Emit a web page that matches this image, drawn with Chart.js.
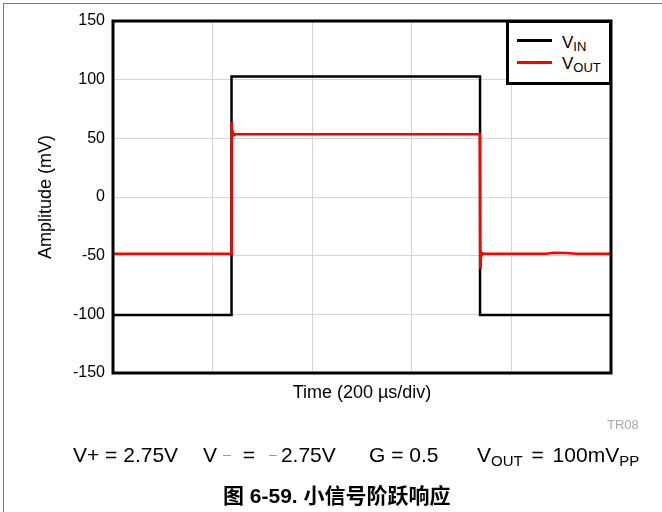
<!DOCTYPE html>
<html>
<head>
<meta charset="utf-8">
<script src="https://cdn.jsdelivr.net/npm/chart.js@4.4.1/dist/chart.umd.min.js"></script>
<style>
  html, body { margin: 0; padding: 0; background: #fff; }
  body { width: 662px; height: 512px; position: relative; overflow: hidden;
         font-family: "Liberation Sans", Arial, sans-serif; color: #000; }
  #page { position: absolute; left: 3px; top: 3px; right: -5px; bottom: -5px;
          border-left: 1px solid #777; border-top: 1px solid #777; }
  #chart { position: absolute; left: 0; top: 0; }
  .legend { position: absolute; left: 506px; top: 20px; width: 106px; height: 65px;
            box-sizing: border-box; border: 3px solid #000; background: #fff; }
  .legend .swatch { position: absolute; left: 8px; width: 35px; height: 2.5px; }
  .legend .name { position: absolute; left: 53px; font-size: 17px; line-height: 17px; white-space: pre; }
  .legend .name span { font-size: 13px; position: relative; top: 3px; }
  .tr { position: absolute; left: 607px; top: 418px; font-size: 13px; line-height: 13px; color: #aaa; }
  .cond { position: absolute; top: 444px; font-size: 21px; line-height: 21px; white-space: pre; }
  .cond .sub { font-size: 15px; position: relative; top: 4px; }
  .cond .dash { font-size: 14px; color: #999; position: relative; top: -3px; }
  .cap { position: absolute; left: 223px; top: 485px; font-size: 21px; line-height: 21px; font-weight: bold;
         white-space: pre; font-family: "Liberation Sans", "Noto Sans CJK SC", sans-serif; }
</style>
</head>
<body>
<div id="page"></div>
<canvas id="chart" width="662" height="512"></canvas>
<div class="legend" id="legend"></div>
<div class="tr">TR08</div>
<div class="cond" style="left:73px">V+ = 2.75V</div>
<div class="cond" style="left:203px">V<span class="dash" style="margin:0 12px 0 6px">–</span>=<span class="dash" style="margin:0 4px 0 14px">–</span>2.75V</div>
<div class="cond" style="left:369px">G = 0.5</div>
<div class="cond" style="left:477px; word-spacing:3px">V<span class="sub">OUT</span> = 100mV<span class="sub">PP</span></div>
<div class="cap">图 6-59. 小信号阶跃响应</div>
<script>
/* Data (time in µs, amplitude in mV) */
const timeIn = [0, 238, 238, 737, 737, 1000];
const vin = [-100.5, -100.5, 102.6, 102.6, -100.5, -100.5];

const timeOut = [0, 237.5, 238.5, 239.5, 241, 243, 246, 736.5, 737.5, 738.5, 740, 743, 746, 870, 885, 910, 930, 1000];
const vout = [-48.3, -48.3, 64, 51, 55, 52.8, 53.4, 53.4, -60, -46, -50, -48, -48.3, -48.3, -47.6, -47.8, -48.3, -48.3];

const yTicks = [-150, -100, -50, 0, 50, 100, 150];
const xGrid = [0, 200, 400, 600, 800, 1000];

const seriesNames = [['V', 'IN'], ['V', 'OUT']];
const seriesColors = ['#000000', '#ff0000'];

const fontFamily = '"Liberation Sans", Arial, sans-serif';

function pairs (xs, ys) {
  return xs.map(function (x, i) { return { x: x, y: ys[i] }; });
}

/* Legend */
const legendEl = document.getElementById('legend');
seriesNames.forEach(function (name, i) {
  const sw = document.createElement('div');
  sw.className = 'swatch';
  sw.style.top = (16 + i * 22) + 'px';
  sw.style.background = seriesColors[i];
  legendEl.appendChild(sw);
  const txt = document.createElement('div');
  txt.className = 'name';
  txt.style.top = (10.5 + i * 21) + 'px';
  txt.innerHTML = name[0] + '<span>' + name[1] + '</span>';
  legendEl.appendChild(txt);
});

/* Plot frame */
const frame = {
  id: 'frame',
  afterDatasetsDraw: function (chart) {
    const a = chart.chartArea;
    const ctx = chart.ctx;
    ctx.save();
    ctx.lineWidth = 3;
    ctx.strokeStyle = '#000';
    ctx.strokeRect(a.left, a.top, a.right - a.left, a.bottom - a.top);
    ctx.restore();
  }
};

const gridStyle = { color: '#d4d4d4', lineWidth: 1, drawTicks: false };

new Chart(document.getElementById('chart').getContext('2d'), {
  type: 'line',
  data: {
    datasets: [{
      label: 'VIN',
      data: pairs(timeIn, vin),
      borderColor: seriesColors[0],
      borderWidth: 2.5,
      order: 2
    },
    {
      label: 'VOUT',
      data: pairs(timeOut, vout),
      borderColor: seriesColors[1],
      borderWidth: 2.5,
      order: 1
    }]
  },
  options: {
    responsive: false,
    animation: false,
    layout: { padding: { top: 21, right: 51, bottom: 0, left: 0 } },
    elements: { point: { radius: 0 }, line: { tension: 0 } },
    plugins: { legend: { display: false }, tooltip: { enabled: false } },
    scales: {
      x: {
        type: 'linear',
        min: 0,
        max: 1000,
        afterBuildTicks: function (s) { s.ticks = xGrid.map(function (v) { return { value: v }; }); },
        ticks: { display: false },
        grid: gridStyle,
        border: { display: false },
        title: {
          display: true,
          text: 'Time (200 µs/div)',
          color: '#000',
          font: { family: fontFamily, size: 18 },
          padding: { top: 0, bottom: 108 }
        },
        afterFit: function (s) { s.height = 139; }
      },
      y: {
        min: -150,
        max: 150,
        afterBuildTicks: function (s) { s.ticks = yTicks.map(function (v) { return { value: v }; }); },
        ticks: { color: '#000', font: { family: fontFamily, size: 16 }, padding: 8 },
        grid: gridStyle,
        border: { display: false },
        title: {
          display: true,
          text: 'Amplitude (mV)',
          color: '#000',
          font: { family: fontFamily, size: 18 },
          padding: { top: 35, bottom: 0 }
        },
        afterFit: function (s) { s.width = 113; }
      }
    }
  },
  plugins: [frame]
});
</script>
</body>
</html>
